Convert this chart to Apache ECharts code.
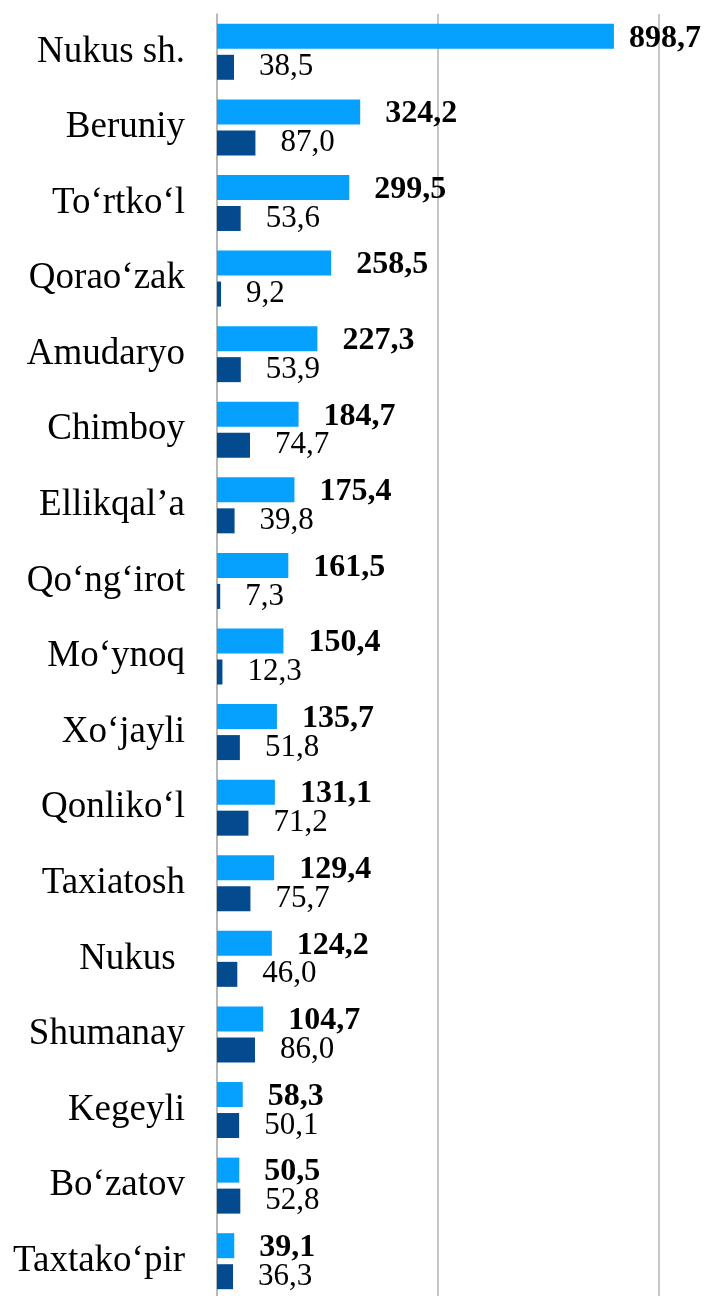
<!DOCTYPE html>
<html>
<head>
<meta charset="utf-8">
<script src="https://cdn.jsdelivr.net/npm/echarts@6/dist/echarts.min.js"></script>
<style>
html,body{margin:0;padding:0;background:#fff;}
#chart{width:712px;height:1296px;}
</style>
</head>
<body>
<div id="chart"></div>
<script>
const categories = ["Nukus sh.", "Beruniy", "To‘rtko‘l", "Qorao‘zak", "Amudaryo", "Chimboy", "Ellikqal’a", "Qo‘ng‘irot", "Mo‘ynoq", "Xo‘jayli", "Qonliko‘l", "Taxiatosh", "Nukus ", "Shumanay", "Kegeyli", "Bo‘zatov", "Taxtako‘pir"];
const seriesA = [898.7, 324.2, 299.5, 258.5, 227.3, 184.7, 175.4, 161.5, 150.4, 135.7, 131.1, 129.4, 124.2, 104.7, 58.3, 50.5, 39.1];
const seriesB = [38.5, 87.0, 53.6, 9.2, 53.9, 74.7, 39.8, 7.3, 12.3, 51.8, 71.2, 75.7, 46.0, 86.0, 50.1, 52.8, 36.3];

const fmt = p => Number(p.value).toFixed(1).replace('.', ',');
const chart = echarts.init(document.getElementById('chart'));
const dataA = seriesA.map((v, i) => i === 0 ? {value: v, label: {distance: 15}} : v);

chart.setOption({
  animation: false,
  grid: {left: 217, top: 14, width: 530, height: 1285, outerBoundsMode: 'none'},
  xAxis: {
    type: 'value', min: 0, max: 1200, interval: 500,
    axisLabel: {show: false}, axisLine: {show: false}, axisTick: {show: false},
    splitLine: {show: true, lineStyle: {color: '#b3b3b3', width: 1.5}}
  },
  yAxis: {
    type: 'category', data: categories, inverse: true,
    axisLine: {show: true, lineStyle: {color: '#b3b3b3', width: 1.5}},
    axisTick: {show: false},
    axisLabel: {margin: 32, color: '#000', fontFamily: 'Liberation Serif', fontSize: 37}
  },
  series: [
    {
      type: 'bar', data: dataA, barWidth: 25, barGap: '24%',
      itemStyle: {color: '#06A0FF'},
      label: {show: true, position: 'right', distance: 25, offset: [0, 2], formatter: fmt,
        fontFamily: 'Liberation Serif', fontSize: 32, fontWeight: 'bold', color: '#000'}
    },
    {
      type: 'bar', data: seriesB, barWidth: 25, barGap: '24%',
      itemStyle: {color: '#044A8F'},
      label: {show: true, position: 'right', distance: 25, formatter: fmt,
        fontFamily: 'Liberation Serif', fontSize: 31, color: '#000'}
    }
  ]
});
</script>
</body>
</html>
